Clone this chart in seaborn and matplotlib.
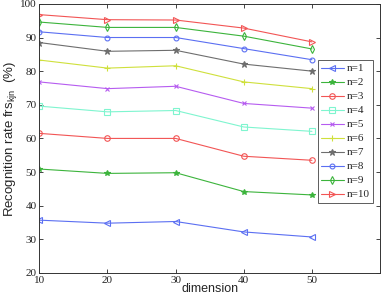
import numpy as np
import pandas as pd
import matplotlib
matplotlib.use('Agg')
import matplotlib.pyplot as plt
import seaborn as sns

dimension = [10, 20, 30, 40, 50]
series_names = ['n=1', 'n=2', 'n=3', 'n=4', 'n=5', 'n=6', 'n=7', 'n=8', 'n=9', 'n=10']
n1 = [35.7, 34.8, 35.3, 32.2, 30.7]
n2 = [50.9, 49.6, 49.8, 44.2, 43.2]
n3 = [61.5, 60.0, 60.0, 54.7, 53.5]
n4 = [69.6, 67.9, 68.3, 63.4, 62.1]
n5 = [76.8, 74.8, 75.5, 70.4, 69.0]
n6 = [83.3, 80.9, 81.6, 76.8, 74.8]
n7 = [88.5, 85.9, 86.2, 82.1, 80.0]
n8 = [91.7, 90.0, 90.0, 86.7, 83.4]
n9 = [94.6, 93.0, 93.0, 90.4, 86.6]
n10 = [96.8, 95.3, 95.2, 92.8, 88.7]
values = [n1, n2, n3, n4, n5, n6, n7, n8, n9, n10]

colors = ['#5b6ff2', '#3cb43c', '#f25555', '#7ff5cf', '#b65cf0',
          '#cfe03c', '#6e6e6e', '#5b6ff2', '#3cb43c', '#f25555']
markers = ['<', '*', 'o', 's', 'x', '+', '*', 'o', 'd', '>']
hollow = [True, False, True, True, False, False, False, True, True, True]
msizes = [4.5, 4, 4, 4, 3.5, 5, 4.5, 3.5, 4, 4.5]

sns.set_style('ticks')
plt.rcParams['font.family'] = ['Liberation Serif', 'DejaVu Serif']

fig = plt.figure(figsize=(3.82, 2.98), dpi=100)
ax = fig.add_axes([0.103, 0.084, 0.892, 0.903])

df = pd.DataFrame({'dimension': dimension})
for name, vals, c, m, h, ms in zip(series_names, values, colors, markers, hollow, msizes):
    df[name] = vals
    sns.lineplot(data=df, x='dimension', y=name, ax=ax, color=c, marker=m,
                 markersize=ms, markerfacecolor='none' if h else c,
                 markeredgecolor=c, markeredgewidth=0.8, linewidth=0.8,
                 label=name)

ax.set_xlim(10, 60)
ax.set_ylim(20, 100)
ax.set_xticks([10, 20, 30, 40, 50])
ax.set_yticks(np.arange(20, 101, 10))
ax.tick_params(direction='in', top=True, right=True, labelsize=8,
               length=3, width=0.6, pad=2, labelcolor='#222222')
for s in ax.spines.values():
    s.set_linewidth(0.7)
    s.set_color('#333333')

ax.set_xlabel('dimension', family='Liberation Sans', fontsize=9, labelpad=-1)
ax.set_ylabel(r'Recognition rate frs$_{\mathregular{kjn}}$  (%)',
              family='Liberation Sans', fontsize=9.5, labelpad=1)

leg = ax.legend(loc='upper right', bbox_to_anchor=(0.98, 0.79), fontsize=8,
                frameon=True, fancybox=False, edgecolor='#333333',
                handlelength=2.0, labelspacing=0.38, borderpad=0.3,
                handletextpad=0.3, borderaxespad=0)
leg.get_frame().set_linewidth(0.7)

fig.savefig('out.png', dpi=100)
